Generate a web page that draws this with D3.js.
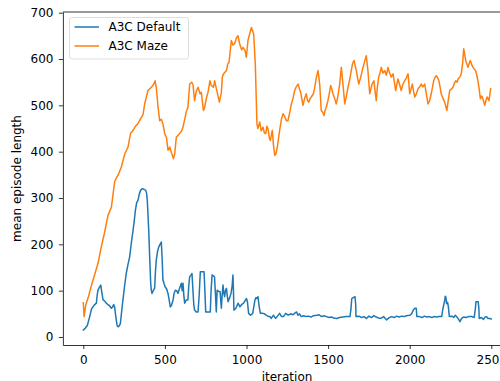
<!DOCTYPE html>
<html lang="en">
<head>
	<meta charset="UTF-8">
	<title>episode length</title>
	<script src="https://d3js.org/d3.v7.min.js"></script>
	<style>
		body { margin: 0; background: #fff; }
		text { font-family: "DejaVu Sans", sans-serif; fill: #000; }
	</style>
</head>
<body>
	<script type="text/javascript">
		var seriesNames = ["A3C Default", "A3C Maze"];
		var seriesColors = ["#1f77b4", "#ff7f0e"];
		var xTicks = [0, 500, 1000, 1500, 2000, 2500];
		var yTicks = [0, 100, 200, 300, 400, 500, 600, 700];

		// A3C Default: [iteration, mean episode length]
		var defaultIter = [0,10,18,25,39,50,59,70,80,85,90,100,107,114,121,130,141,150,160,172,180,186,192,197,202,207,213,220,227,235,243,253,263,273,284,295,305,312,319,327,335,344,352,360,366,374,382,388,392,397,401,407,413,417,421,428,437,442,447,455,462,470,478,483,488,495,502,510,519,526,533,540,550,557,564,572,580,590,601,606,611,616,621,631,641,646,652,659,666,672,677,682,692,703,710,717,728,740,745,750,765,778,783,789,797,804,810,815,820,830,838,842,846,851,856,861,866,871,877,882,887,897,905,912,917,920,923,935,948,960,970,982,994,1000,1006,1013,1025,1038,1052,1058,1064,1070,1078,1085,1100,1110,1121,1135,1144,1152,1165,1178,1190,1203,1215,1226,1240,1255,1270,1285,1298,1307,1315,1325,1335,1350,1365,1380,1395,1410,1430,1445,1460,1475,1490,1505,1520,1535,1552,1570,1590,1610,1625,1634,1640,1645,1655,1665,1669,1671,1690,1705,1720,1735,1750,1765,1780,1795,1810,1824,1840,1850,1859,1875,1890,1905,1920,1935,1950,1965,1980,2001,2012,2022,2032,2040,2044,2060,2075,2090,2105,2120,2135,2150,2165,2180,2196,2203,2210,2215,2218,2221,2226,2232,2237,2243,2260,2270,2279,2290,2300,2308,2318,2330,2345,2360,2370,2382,2395,2402,2406,2420,2424,2426,2440,2452,2462,2471,2480,2492,2499];
		var defaultVals = [15,18,22,25,44,60,65,70,73,90,101,108,112,95,80,78,73,70,68,62,65,70,65,50,37,25,22,24,29,55,80,110,137,155,173,205,230,250,273,290,295,310,317,320,320,318,317,310,295,260,230,170,116,100,94,100,105,140,166,185,194,200,205,170,123,115,108,104,94,80,65,68,80,95,101,100,94,105,116,100,116,90,73,80,80,110,130,133,137,100,70,58,54,54,90,141,141,141,100,54,54,54,100,134,132,130,90,54,101,98,98,80,62,90,112,95,87,100,105,90,76,85,94,110,134,100,58,62,73,65,70,73,80,83,75,51,47,51,80,85,83,87,65,51,51,50,47,44,44,40,47,40,45,51,44,44,51,47,50,48,52,54,47,50,44,46,44,45,43,46,47,48,44,46,44,42,43,41,40,42,43,44,44,44,60,83,85,87,70,44,45,42,44,40,45,42,46,43,41,40,44,40,37,42,44,42,45,43,45,44,46,47,50,58,62,62,44,44,42,45,43,44,42,44,43,44,44,60,72,80,88,87,72,75,65,44,45,42,47,43,38,33,40,43,42,44,44,44,42,60,76,76,60,40,42,38,43,44,40,40,39];

		// A3C Maze: [iteration, mean episode length]
		var mazeIter = [0,5,15,30,49,70,90,110,130,151,172,192,205,213,233,254,274,290,305,320,335,356,366,376,396,417,430,440,447,458,468,478,488,499,510,519,530,539,552,560,570,590,603,611,633,641,652,664,672,682,692,703,715,723,736,743,756,764,776,784,797,805,815,826,834,846,852,860,877,885,893,907,917,927,940,948,958,970,979,991,999,1009,1020,1030,1044,1054,1064,1070,1081,1090,1101,1110,1118,1125,1132,1140,1146,1158,1165,1173,1180,1189,1203,1214,1224,1235,1244,1254,1265,1275,1285,1295,1305,1316,1325,1332,1346,1356,1366,1374,1381,1390,1397,1410,1418,1428,1438,1444,1449,1458,1467,1475,1482,1489,1499,1507,1516,1523,1530,1540,1550,1560,1571,1581,1591,1602,1612,1622,1632,1642,1650,1659,1666,1673,1680,1688,1700,1714,1724,1734,1744,1755,1762,1769,1781,1788,1795,1802,1810,1818,1826,1836,1847,1857,1867,1877,1887,1898,1906,1914,1921,1928,1938,1948,1958,1969,1980,1990,2000,2008,2016,2024,2031,2041,2051,2061,2071,2081,2092,2102,2112,2122,2132,2140,2147,2155,2163,2171,2179,2186,2193,2204,2214,2221,2228,2236,2245,2255,2265,2274,2282,2290,2296,2306,2316,2324,2331,2337,2343,2350,2357,2364,2371,2380,2388,2396,2404,2411,2418,2426,2433,2440,2445,2452,2460,2467,2474,2480,2486,2490,2496];
		var mazeVals = [74,44,69,85,110,135,159,194,225,262,280,335,345,349,367,395,410,440,446,455,461,474,480,503,532,539,545,553,539,496,467,470,460,439,430,403,410,399,385,395,431,439,445,453,489,495,546,550,545,510,530,539,525,528,489,495,518,528,553,543,539,553,536,520,507,528,561,568,575,589,593,640,630,633,647,650,633,620,625,618,604,640,655,668,654,589,460,450,464,445,453,440,439,455,449,430,424,446,415,392,395,410,446,470,482,475,467,467,485,503,515,532,540,546,535,528,500,515,525,510,507,515,518,525,539,560,575,560,543,489,485,478,490,496,510,525,543,535,525,515,503,520,546,582,546,503,520,539,555,575,590,597,585,575,560,546,561,582,595,607,575,525,535,546,553,530,510,540,561,570,582,570,575,565,582,570,561,568,550,532,545,557,545,532,545,553,560,568,525,535,546,530,518,525,536,540,546,540,546,525,503,510,525,540,553,560,564,560,553,540,525,515,507,498,489,510,532,535,539,548,553,550,557,560,568,590,622,610,597,590,582,590,597,588,582,578,575,565,553,535,514,520,518,510,500,510,518,515,510,520,536];

		var w = 500;
		var h = 381;

		var xScale = d3.scaleLinear().domain([-125, 2625]).range([62.9, 511.7]);
		var yScale = d3.scaleLinear().domain([-17.3, 701.5]).range([345, 12]);

		var svg = d3.select("body").append("svg").attr("width", w).attr("height", h);

		svg.append("clipPath").attr("id", "plot")
			.append("rect")
			.attr("x", 62.9).attr("y", 12)
			.attr("width", 511.7 - 62.9).attr("height", 345 - 12);

		var series = [
			d3.zip(defaultIter, defaultVals),
			d3.zip(mazeIter, mazeVals)
		];

		var line = d3.line()
			.x(function(d) { return xScale(d[0]); })
			.y(function(d) { return yScale(d[1]); });

		svg.append("g").attr("clip-path", "url(#plot)")
			.selectAll("path")
			.data(series)
			.enter()
			.append("path")
			.attr("d", line)
			.attr("fill", "none")
			.attr("stroke", function(d, i) { return seriesColors[i]; })
			.attr("stroke-width", 1.5)
			.attr("stroke-linejoin", "round")
			.attr("stroke-linecap", "square");

		//axes
		var xAxis = d3.axisBottom(xScale).tickValues(xTicks).tickFormat(d3.format("d"))
			.tickSize(4).tickPadding(6.5).tickSizeOuter(0);
		var yAxis = d3.axisLeft(yScale).tickValues(yTicks).tickFormat(d3.format("d"))
			.tickSize(4).tickPadding(5.5).tickSizeOuter(0);

		var gx = svg.append("g").attr("transform", "translate(0,345)").call(xAxis);
		var gy = svg.append("g").attr("transform", "translate(62.9,0)").call(yAxis);

		[gx, gy].forEach(function(g) {
			g.selectAll("path.domain").attr("stroke", "#000").attr("stroke-width", 0.8);
			g.selectAll(".tick line").attr("stroke", "#000").attr("stroke-width", 0.8);
			g.selectAll(".tick text").attr("font-size", "12px").attr("font-family", "DejaVu Sans").attr("fill", "#000");
		});

		//top spine
		svg.append("line")
			.attr("x1", 62.9).attr("x2", 511.7)
			.attr("y1", 12).attr("y2", 12)
			.attr("stroke", "#000").attr("stroke-width", 0.8);

		//axis labels
		svg.append("text")
			.attr("x", 287).attr("y", 380.5)
			.attr("text-anchor", "middle")
			.attr("font-size", "12px")
			.text("iteration");

		svg.append("text")
			.attr("transform", "translate(21,178.5) rotate(-90)")
			.attr("text-anchor", "middle")
			.attr("font-size", "12px")
			.text("mean episode length");

		//legend
		var legend = svg.append("g");
		legend.append("rect")
			.attr("x", 69.5).attr("y", 17.5)
			.attr("width", 119).attr("height", 41.5)
			.attr("rx", 2.5)
			.attr("fill", "#fff").attr("fill-opacity", 0.8)
			.attr("stroke", "#d6d6d6").attr("stroke-width", 0.8);

		var items = legend.selectAll("g.item")
			.data(seriesNames)
			.enter()
			.append("g")
			.attr("class", "item")
			.attr("transform", function(d, i) { return "translate(0," + (27 + i * 19) + ")"; });

		items.append("line")
			.attr("x1", 74.5).attr("x2", 99)
			.attr("stroke", function(d, i) { return seriesColors[i]; })
			.attr("stroke-width", 1.5);

		items.append("text")
			.attr("x", 108.5).attr("y", 4.3)
			.attr("font-size", "12px")
			.text(function(d) { return d; });
	</script>
</body>
</html>
